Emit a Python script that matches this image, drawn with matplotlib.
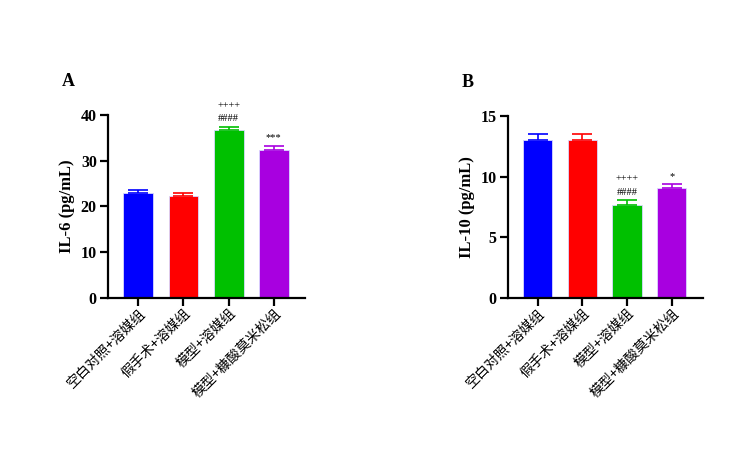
import numpy as np
import matplotlib
matplotlib.use("Agg")
from matplotlib import pyplot as plt

groups = ["空白对照+溶媒组", "假手术+溶媒组", "模型+溶媒组", "模型+糠酸莫米松组"]
colors = ["#0000FF", "#FF0000", "#00C000", "#A800E0"]

il6_mean = [23.0, 22.3, 36.8, 32.3]
il6_err = [0.6, 0.6, 0.6, 0.9]
il6_marks = ["", "", "++++\n####", "***"]

il10_mean = [13.05, 13.05, 7.67, 9.07]
il10_err = [0.45, 0.45, 0.38, 0.3]
il10_marks = ["", "", "++++\n####", "*"]

serif = ["Liberation Serif", "DejaVu Serif"]
cjk = ["Noto Sans CJK SC", "DejaVu Sans"]

fig = plt.figure(figsize=(7.38, 4.51), dpi=100)


def panel(rect, means, errs, marks, ylim, yticks, ylabel, letter):
    ax = fig.add_axes(rect)
    x = np.arange(len(means))
    ax.bar(x, means, width=0.66, color=colors, edgecolor="#d8d8ff", linewidth=0.6, zorder=2)
    for xi, m, e, c in zip(x, means, errs, colors):
        ax.errorbar(xi, m, yerr=[[0], [e]], fmt="none", ecolor=c, elinewidth=1.2,
                    capsize=7, capthick=1.2, zorder=3)
    for xi, m, e, t in zip(x, means, errs, marks):
        if t:
            ax.text(xi, m + e + ylim[1] * 0.02, t, ha="center", va="bottom",
                    fontsize=7.5, family=serif, linespacing=1.6)
    ax.set_xlim(-0.67, 3.69)
    ax.set_ylim(*ylim)
    ax.set_yticks(yticks)
    ax.set_xticks(x)
    ax.set_xticklabels(groups, rotation=45, ha="right", rotation_mode="anchor",
                       fontsize=10, family=cjk)
    for lab in ax.get_yticklabels():
        lab.set_family(serif)
        lab.set_fontweight("bold")
        lab.set_fontsize(11.5)
    ax.tick_params(axis="both", width=1.6, length=6, pad=2)
    ax.tick_params(axis="x", pad=0)
    for s in ["top", "right"]:
        ax.spines[s].set_visible(False)
    for s in ["left", "bottom"]:
        ax.spines[s].set_linewidth(1.6)
    ax.set_ylabel(ylabel, fontsize=12, fontweight="bold", family=serif, labelpad=4)
    fig.text(rect[0] - 0.063, rect[1] + rect[3] + 0.065, letter, fontsize=13,
             fontweight="bold", family=serif)
    return ax


panel([0.1463, 0.3392, 0.267, 0.406], il6_mean, il6_err, il6_marks,
      (0, 40), [0, 10, 20, 30, 40], "IL-6 (pg/mL)", "A")
panel([0.688, 0.3392, 0.264, 0.4036], il10_mean, il10_err, il10_marks,
      (0, 15), [0, 5, 10, 15], "IL-10 (pg/mL)", "B")

fig.savefig("out.png", dpi=100)
